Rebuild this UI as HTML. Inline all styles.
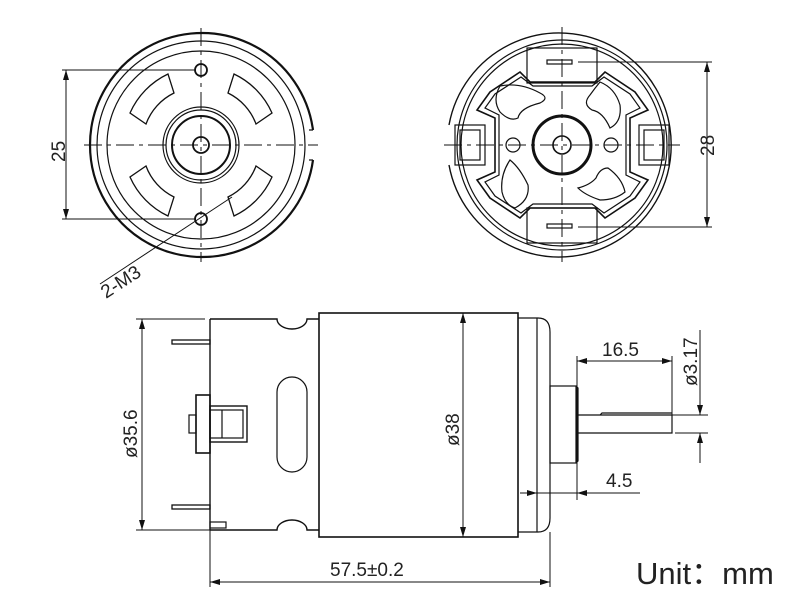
<!DOCTYPE html>
<html><head><meta charset="utf-8"><style>
html,body{margin:0;padding:0;background:#fff;}
svg{display:block;}
text{font-family:"Liberation Sans",sans-serif;fill:#222;}
</style></head><body>
<svg width="800" height="597" viewBox="0 0 800 597" xmlns="http://www.w3.org/2000/svg">
<defs>
<marker id="a" viewBox="0 0 10 6" refX="10" refY="3" markerWidth="10" markerHeight="6" orient="auto-start-reverse" markerUnits="userSpaceOnUse"><path d="M0,0 L10,3 L0,6 z" fill="#111"/></marker>
</defs>
<g fill="none" stroke="#111" stroke-width="1.2">
<!-- LEFT VIEW -->
<path d="M313,130 A112,112 0 1 0 313,160" stroke-width="2.2"/>
<path d="M313,130 L309,130 M313,160 L309,160"/>
<circle cx="201" cy="145" r="104"/>
<circle cx="201" cy="145" r="94"/>
<circle cx="201" cy="145" r="38"/>
<circle cx="201" cy="145" r="35"/>
<circle cx="201" cy="145" r="29" stroke-width="2"/>
<circle cx="201" cy="145" r="8" stroke-width="1.8"/>
<circle cx="201" cy="70" r="6" stroke-width="1.8"/>
<circle cx="201" cy="219" r="6" stroke-width="1.8"/>
<g stroke-width="1.3">
<path d="M130,113 A78,78 0 0 1 168,74 L174,93 A56,56 0 0 0 146,124 Z"/>
<path d="M272,113 A78,78 0 0 0 234,74 L228,93 A56,56 0 0 1 256,124 Z"/>
<path d="M130,177 A78,78 0 0 0 168,216 L174,197 A56,56 0 0 1 146,166 Z"/>
<path d="M272,177 A78,78 0 0 1 234,216 L228,197 A56,56 0 0 0 256,166 Z"/>
</g>
<g stroke-dasharray="18,5,4,5" stroke-width="1">
<line x1="201" y1="28" x2="201" y2="262"/>
<line x1="84" y1="145" x2="318" y2="145"/>
</g>
<line x1="62" y1="70" x2="196" y2="70" stroke-width="1"/>
<line x1="62" y1="219" x2="196" y2="219" stroke-width="1"/>
<line x1="66" y1="70" x2="66" y2="219" stroke-width="1" marker-start="url(#a)" marker-end="url(#a)"/>
<line x1="100" y1="284" x2="232" y2="197" stroke-width="1"/>
<!-- RIGHT VIEW -->
<path d="M449,125 A112,112 0 1 1 449,165" stroke-width="1.4"/>
<circle cx="562" cy="145" r="105"/>
<circle cx="562" cy="145" r="101"/>
<circle cx="562" cy="145" r="29" stroke-width="3"/>
<circle cx="562" cy="145" r="9" stroke-width="1.6"/>
<circle cx="513" cy="145" r="7"/>
<circle cx="611" cy="145" r="7"/>
<rect x="527" y="48" width="70" height="35"/>
<rect x="527" y="208" width="70" height="35"/>
<rect x="455" y="125" width="30" height="40"/>
<rect x="639" y="125" width="30" height="40"/>
<rect x="460" y="130" width="20" height="30"/>
<rect x="644" y="130" width="20" height="30"/>
<rect x="547" y="60" width="25" height="4"/>
<rect x="547" y="224" width="25" height="4"/>
<path d="M530,82 L595,82 L605,72 L635,92 L648,110 L630,118 L630,172 L648,180 L635,198 L605,218 L595,208 L530,208 L520,218 L490,198 L477,180 L495,172 L495,118 L477,110 L490,92 L520,72 Z" stroke-width="1.6"/>
<path d="M533,86 L592,86 L604,77 L630,94 L640,108 L626,115 L626,175 L640,182 L630,196 L604,213 L592,204 L533,204 L521,213 L495,196 L485,182 L499,175 L499,115 L485,108 L495,94 L521,77 Z"/>
<path d="M500,86 Q520,82 540,93 Q550,98 540,103 Q520,108 518,118 Q510,122 500,112 Q492,100 500,86 Z"/>
<path d="M600,82 Q615,88 620,105 Q622,122 610,128 Q603,112 592,110 Q582,104 590,95 Q595,88 600,82 Z"/>
<path d="M510,160 Q520,168 528,185 Q530,200 515,208 Q505,205 502,192 Q500,175 510,160 Z"/>
<path d="M608,168 Q622,178 625,192 Q615,200 600,200 Q585,195 578,188 Q590,185 596,178 Q600,168 608,168 Z"/>
<g stroke-dasharray="18,5,4,5" stroke-width="1">
<line x1="562" y1="27" x2="562" y2="262"/>
<line x1="444" y1="145" x2="680" y2="145"/>
</g>
<line x1="578" y1="62" x2="712" y2="62" stroke-width="1"/>
<line x1="578" y1="227" x2="712" y2="227" stroke-width="1"/>
<line x1="707" y1="62" x2="707" y2="227" stroke-width="1" marker-start="url(#a)" marker-end="url(#a)"/>
<!-- SIDE VIEW -->
<path d="M210,319 L277,319 A15,10 0 0 0 307,319 L319,319 M210,530 L277,530 A15,10 0 0 1 307,530 L319,530 M210,319 L210,530" stroke-width="1.4"/>
<rect x="319" y="313" width="199" height="224" stroke-width="1.6"/>
<path d="M518,318 L538,318 Q550,318 550,332 L550,518 Q550,532 538,532 L518,532 M537,318 L537,532"/>
<rect x="550" y="386" width="26" height="77"/>
<path d="M576,386 L578,388 L578,461 L576,463"/>
<path d="M578,415 L672,415 L672,433 L578,433 M600,415 L602,413 L672,413" />
<rect x="277" y="377" width="30" height="95" rx="15"/>
<rect x="172" y="340" width="38" height="4" stroke-width="1.3"/>
<rect x="172" y="505" width="38" height="4" stroke-width="1.3"/>
<rect x="210" y="522" width="16" height="6"/>
<rect x="196" y="395" width="14" height="58" stroke-width="1.6"/>
<rect x="189" y="415" width="7" height="18"/>
<rect x="210" y="406" width="37" height="36" stroke-width="1.4"/>
<rect x="210" y="410" width="33" height="28"/>
<line x1="222" y1="410" x2="222" y2="438"/>
<g stroke-width="1">
<line x1="136" y1="319" x2="205" y2="319"/>
<line x1="136" y1="530" x2="210" y2="530"/>
<line x1="142" y1="319" x2="142" y2="530" marker-start="url(#a)" marker-end="url(#a)"/>
<line x1="463" y1="313" x2="463" y2="537" marker-start="url(#a)" marker-end="url(#a)"/>
<line x1="210" y1="530" x2="210" y2="587"/>
<line x1="550" y1="532" x2="550" y2="587"/>
<line x1="210" y1="582" x2="550" y2="582" marker-start="url(#a)" marker-end="url(#a)"/>
<line x1="577" y1="356" x2="577" y2="500"/>
<line x1="672" y1="356" x2="672" y2="415"/>
<line x1="577" y1="361" x2="672" y2="361" marker-start="url(#a)" marker-end="url(#a)"/>
<line x1="672" y1="415" x2="708" y2="415"/>
<line x1="675" y1="433" x2="708" y2="433"/>
<line x1="700" y1="330" x2="700" y2="415" marker-end="url(#a)"/>
<line x1="700" y1="463" x2="700" y2="433" marker-end="url(#a)"/>
<line x1="520" y1="493" x2="537" y2="493" marker-end="url(#a)"/>
<line x1="640" y1="493" x2="577" y2="493" marker-end="url(#a)"/>
<line x1="537" y1="493" x2="577" y2="493"/>
</g>
</g>
<text x="0" y="0" font-size="19" transform="translate(65,162) rotate(-90)">25</text>
<text x="0" y="0" font-size="19" transform="translate(106,299) rotate(-33)">2-M3</text>
<text x="0" y="0" font-size="19" transform="translate(714,156) rotate(-90)">28</text>
<text x="0" y="0" font-size="19" transform="translate(137,458) rotate(-90)">ø35.6</text>
<text x="0" y="0" font-size="19" transform="translate(459,446) rotate(-90)">ø38</text>
<text x="0" y="0" font-size="19" transform="translate(697,386) rotate(-90)">ø3.17</text>
<text x="602" y="356" font-size="19">16.5</text>
<text x="606" y="487" font-size="19">4.5</text>
<text x="330" y="576" font-size="19">57.5±0.2</text>
<text x="636" y="584" font-size="31" style="font-family:'Liberation Sans','Noto Sans CJK SC',sans-serif">Unit：mm</text>
</svg>
</body></html>
